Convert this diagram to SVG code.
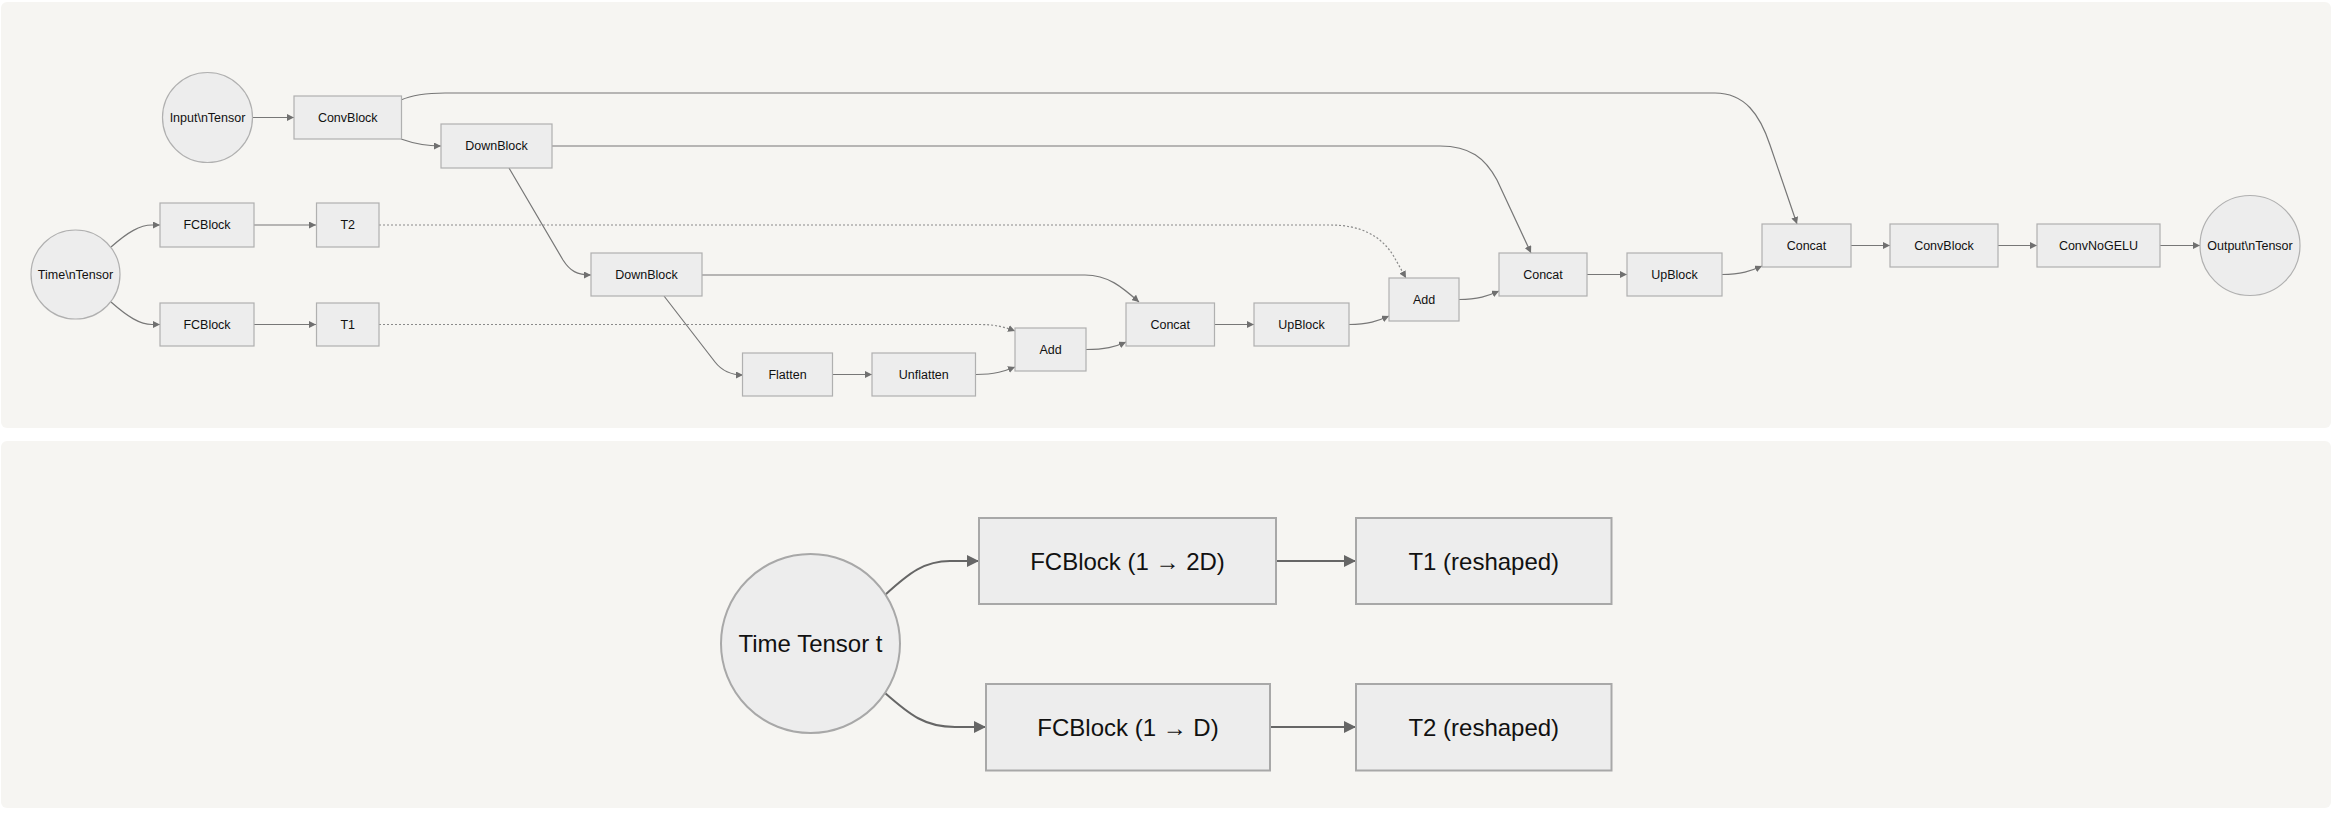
<svg xmlns="http://www.w3.org/2000/svg" width="2348" height="818" viewBox="0 0 2348 818">
<style>
.panel{fill:#f6f5f2;stroke:none}
.n rect,.n circle{fill:#ededed;stroke:#b0b0b0;stroke-width:1.2}
.m rect,.m circle{fill:#ededed;stroke:#a8a8a8;stroke-width:2}
.t{font-family:"Liberation Sans",Arial,sans-serif;font-size:12.5px;fill:#111;text-anchor:middle;dominant-baseline:central}
.tb{font-family:"Liberation Sans",Arial,sans-serif;font-size:24px;fill:#111;text-anchor:middle;dominant-baseline:central}
.e{fill:none;stroke:#777;stroke-width:1.2;marker-end:url(#a)}
.d{fill:none;stroke:#8a8a8a;stroke-width:1.2;stroke-dasharray:2,2;marker-end:url(#a)}
.eb{fill:none;stroke:#666;stroke-width:2;marker-end:url(#ab)}
</style>
<defs>
<marker id="a" viewBox="0 0 10 10" refX="10" refY="5" markerUnits="userSpaceOnUse" markerWidth="7" markerHeight="7" orient="auto"><path d="M0,0L10,5L0,10z" fill="#707070"/></marker>
<marker id="ab" viewBox="0 0 10 10" refX="10" refY="5" markerUnits="userSpaceOnUse" markerWidth="13" markerHeight="12" orient="auto"><path d="M0,0L10,5L0,10z" fill="#666"/></marker>
</defs>
<rect width="2348" height="818" fill="#ffffff"/>
<rect class="panel" x="1" y="2" width="2330" height="426" rx="6"/>
<rect class="panel" x="1" y="441" width="2330" height="367" rx="6"/>

<g id="connectors">
<path class="e" d="M253,117.5L294,117.5"/>
<path class="e" d="M401,100C412,95 425,93 445,93L1715,93C1745,93 1760,115 1770,145L1797,224"/>
<path class="e" d="M401,139C415,144 425,146 441,146"/>
<path class="e" d="M552,146L1440,146C1470,146 1485,158 1497,180L1531,253"/>
<path class="e" d="M509,168L563,260C570,271 577,275 591,275"/>
<path class="e" d="M702,275L1085,275C1108,275 1122,287 1139,302"/>
<path class="e" d="M664,296L715,362C722,371 730,375 743,375"/>
<path class="e" d="M833,374.5L872,374.5"/>
<path class="e" d="M976,374.5C995,374.5 1005,371 1015,367"/>
<path class="e" d="M1086,349.5C1105,349.5 1115,347 1126,342"/>
<path class="e" d="M1214,324.5L1254,324.5"/>
<path class="e" d="M1349,324.5C1368,324.5 1378,321 1389,316"/>
<path class="e" d="M1459,299.5C1478,299.5 1488,296 1499,291"/>
<path class="e" d="M1587,274.5L1627,274.5"/>
<path class="e" d="M1722,274.5C1741,274.5 1751,271 1762,266"/>
<path class="e" d="M1851,245.5L1890,245.5"/>
<path class="e" d="M1998,245.5L2037,245.5"/>
<path class="e" d="M2160,245.5L2200,245.5"/>
<path class="e" d="M111,247C128,232 140,225 152,225L160,225"/>
<path class="e" d="M111,302C128,317 140,324.5 152,324.5L160,324.5"/>
<path class="e" d="M254,225L316,225"/>
<path class="e" d="M254,324.5L316,324.5"/>
<path class="d" d="M379,324.5L980,324.5C995,324.5 1005,327 1015,331"/>
<path class="d" d="M379,225L1330,225C1360,225 1380,235 1393,255L1406,278"/>
<path class="eb" d="M885,595C910,572 925,561 950,561L979,561"/>
<path class="eb" d="M885,693C910,715 925,727 955,727L986,727"/>
<path class="eb" d="M1276,561L1356,561"/>
<path class="eb" d="M1270,727L1356,727"/>
</g>

<g id="input" class="n"><circle cx="207.5" cy="117.5" r="45"/><text class="t" x="207.5" y="117.5">Input\nTensor</text></g>
<g id="convblock1" class="n"><rect x="294" y="96" width="107.5" height="43"/><text class="t" x="347.75" y="117.5">ConvBlock</text></g>
<g id="downblock1" class="n"><rect x="441" y="124" width="111" height="44"/><text class="t" x="496.5" y="146">DownBlock</text></g>
<g id="time" class="n"><circle cx="75.5" cy="274.5" r="44.5"/><text class="t" x="75.5" y="274.5">Time\nTensor</text></g>
<g id="fcblock2" class="n"><rect x="160" y="203" width="94" height="44"/><text class="t" x="207" y="225">FCBlock</text></g>
<g id="t2" class="n"><rect x="316.5" y="203" width="62.5" height="44"/><text class="t" x="347.75" y="225">T2</text></g>
<g id="fcblock1" class="n"><rect x="160" y="303" width="94" height="43"/><text class="t" x="207" y="324.5">FCBlock</text></g>
<g id="t1" class="n"><rect x="316.5" y="303" width="62.5" height="43"/><text class="t" x="347.75" y="324.5">T1</text></g>
<g id="downblock2" class="n"><rect x="591" y="253" width="111" height="43"/><text class="t" x="646.5" y="274.5">DownBlock</text></g>
<g id="flatten" class="n"><rect x="742.5" y="353" width="90" height="43"/><text class="t" x="787.5" y="374.5">Flatten</text></g>
<g id="unflatten" class="n"><rect x="872" y="353" width="103.5" height="43"/><text class="t" x="923.75" y="374.5">Unflatten</text></g>
<g id="add1" class="n"><rect x="1015" y="328" width="71" height="43"/><text class="t" x="1050.5" y="349.5">Add</text></g>
<g id="concat1" class="n"><rect x="1126" y="303" width="88.5" height="43"/><text class="t" x="1170.25" y="324.5">Concat</text></g>
<g id="upblock1" class="n"><rect x="1254" y="303" width="95" height="43"/><text class="t" x="1301.5" y="324.5">UpBlock</text></g>
<g id="add2" class="n"><rect x="1389" y="278" width="70" height="43"/><text class="t" x="1424" y="299.5">Add</text></g>
<g id="concat2" class="n"><rect x="1499" y="253" width="88" height="43"/><text class="t" x="1543" y="274.5">Concat</text></g>
<g id="upblock2" class="n"><rect x="1627" y="253" width="95" height="43"/><text class="t" x="1674.5" y="274.5">UpBlock</text></g>
<g id="concat3" class="n"><rect x="1762" y="224" width="89" height="43"/><text class="t" x="1806.5" y="245.5">Concat</text></g>
<g id="convblock2" class="n"><rect x="1890" y="224" width="108" height="43"/><text class="t" x="1944" y="245.5">ConvBlock</text></g>
<g id="convnogelu" class="n"><rect x="2037" y="224" width="123" height="43"/><text class="t" x="2098.5" y="245.5">ConvNoGELU</text></g>
<g id="output" class="n"><circle cx="2250" cy="245.5" r="50"/><text class="t" x="2250" y="245.5">Output\nTensor</text></g>

<g id="timetensor" class="m"><circle cx="810.5" cy="643.5" r="89.5"/><text class="tb" x="810.5" y="643.5">Time Tensor t</text></g>
<g id="fc2d" class="m"><rect x="979" y="518" width="297" height="86"/><text class="tb" x="1127.5" y="561">FCBlock (1 → 2D)</text></g>
<g id="t1r" class="m"><rect x="1356" y="518" width="255.5" height="86"/><text class="tb" x="1483.75" y="561">T1 (reshaped)</text></g>
<g id="fcd" class="m"><rect x="986" y="684" width="284" height="86.5"/><text class="tb" x="1128" y="727">FCBlock (1 → D)</text></g>
<g id="t2r" class="m"><rect x="1356" y="684" width="255.5" height="86.5"/><text class="tb" x="1483.75" y="727">T2 (reshaped)</text></g>
</svg>
